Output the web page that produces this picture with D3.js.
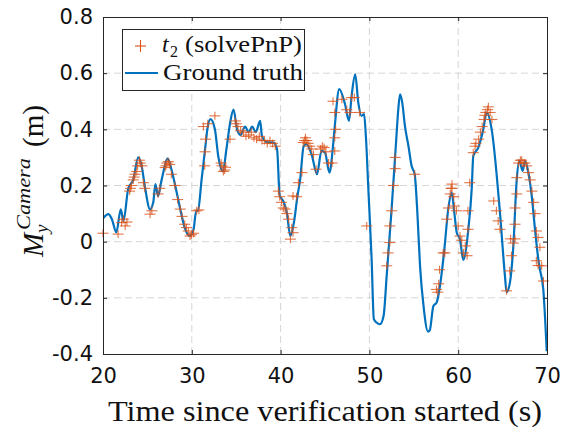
<!DOCTYPE html>
<html>
<head>
<meta charset="utf-8">
<script src="https://cdn.jsdelivr.net/npm/d3@7"></script>
<style>
  html, body { margin: 0; padding: 0; background: #ffffff; }
  svg { display: block; }
</style>
</head>
<body>
<svg id="chart" width="564" height="433"></svg>
<script>
// ---------- data ----------
const xTicks = [20, 30, 40, 50, 60, 70];
const yTicks = [-0.4, -0.2, 0, 0.2, 0.4, 0.6, 0.8];
const yTickLabels = ["-0.4", "-0.2", "0", "0.2", "0.4", "0.6", "0.8"];

// Ground truth (time s, metres)
const truthT = [20.0,20.6,21.0,21.5,22.0,22.3,22.85,23.4,23.97,24.35,24.7,25.3,25.66,25.9,26.2,26.6,27.3,27.7,28.3,28.7,29.2,29.8,30.2,30.5,30.7,31.1,31.5,31.75,32.1,32.6,33.0,33.5,33.9,34.3,34.7,35.1,35.5,36.0,36.4,36.8,37.2,37.7,37.9,38.5,39.2,39.6,39.9,40.3,40.7,41.1,41.5,41.9,42.2,42.6,42.9,43.5,44.1,44.6,45.0,45.5,45.9,46.1,46.6,47.25,47.7,48.0,48.4,48.75,49.1,49.4,49.6,49.9,50.25,50.5,50.8,51.2,51.6,51.95,52.5,53.0,53.25,53.45,53.7,54.0,54.4,54.75,55.1,55.4,55.7,56.1,56.6,56.8,57.2,57.58,57.95,58.4,58.88,59.27,59.56,59.83,60.2,60.57,61.14,61.52,61.7,62.26,62.83,63.2,63.77,64.7,65.26,65.45,65.83,66.2,66.59,66.88,67.26,67.52,67.9,68.28,68.65,69.02,69.2,69.58,69.97];
const truthV = [0.083,0.098,0.08,0.033,0.115,0.074,0.19,0.22,0.30,0.27,0.20,0.115,0.14,0.205,0.163,0.22,0.296,0.258,0.175,0.116,0.05,0.02,0.044,0.11,0.11,0.22,0.33,0.40,0.436,0.40,0.30,0.25,0.33,0.42,0.47,0.40,0.38,0.41,0.39,0.41,0.39,0.43,0.376,0.354,0.353,0.33,0.163,0.145,0.104,0.02,0.068,0.163,0.22,0.34,0.347,0.31,0.24,0.323,0.317,0.246,0.34,0.41,0.543,0.49,0.43,0.52,0.596,0.495,0.448,0.454,0.377,0.175,-0.062,-0.276,-0.288,-0.294,-0.264,-0.12,0.116,0.353,0.47,0.525,0.495,0.412,0.34,0.27,0.24,0.104,-0.086,-0.23,-0.32,-0.315,-0.23,-0.216,-0.157,-0.04,0.116,0.175,0.104,0.033,0.009,-0.065,0.044,0.187,0.305,0.335,0.40,0.46,0.40,0.104,-0.12,-0.18,-0.145,-0.02,0.22,0.288,0.252,0.288,0.246,0.163,0.044,-0.062,-0.098,-0.169,-0.39];

// t2 (solvePnP) estimates
const pnpT = [20.0,21.7,22.1,22.3,22.5,22.7,23.0,23.1,23.2,23.4,23.5,23.6,23.8,23.9,24.1,24.2,24.4,24.55,24.7,25.3,25.5,26.2,26.4,27.0,27.1,27.2,27.35,27.5,27.7,28.1,28.4,28.7,28.9,29.2,29.4,29.6,29.8,29.95,30.2,30.55,30.8,31.45,31.5,31.55,31.3,31.8,32.6,33.3,33.4,33.55,33.7,33.8,34.3,34.9,35.0,35.2,35.5,35.8,36.1,36.4,36.7,37.0,37.3,37.6,37.9,38.2,38.5,38.8,39.1,39.4,39.75,39.9,40.1,40.3,40.5,40.7,40.9,41.1,41.25,41.4,41.4,41.8,42.0,42.4,42.55,42.7,42.8,42.95,43.1,43.3,43.5,43.7,44.0,44.5,44.7,44.9,45.1,45.4,45.8,46.1,46.1,46.2,45.9,46.1,46.9,47.45,47.8,48.0,48.3,48.9,49.7,51.95,52.1,52.3,52.3,52.5,52.7,52.9,52.9,55.1,57.55,57.7,57.8,57.9,58.3,58.5,58.7,58.9,59.1,59.2,59.3,59.3,59.5,59.6,59.8,60.0,60.2,60.4,60.6,60.8,61.0,61.1,61.1,61.3,61.7,61.9,62.0,62.3,62.5,62.7,62.9,63.0,63.1,63.3,63.4,63.6,63.8,64.0,64.3,64.5,64.7,65.45,65.8,66.0,66.2,65.9,66.4,66.4,66.4,66.6,66.6,66.8,67.0,67.15,67.3,67.5,67.7,67.9,68.1,68.3,68.5,68.65,68.8,69.0,69.2,68.8,69.0,69.4,69.6];
const pnpV = [0.03,0.027,0.068,0.08,0.056,0.07,0.18,0.19,0.20,0.22,0.23,0.24,0.25,0.27,0.29,0.28,0.27,0.21,0.19,0.098,0.11,0.17,0.19,0.264,0.27,0.28,0.285,0.275,0.24,0.20,0.15,0.116,0.09,0.062,0.05,0.038,0.02,0.025,0.03,0.11,0.113,0.27,0.32,0.365,0.41,0.42,0.448,0.28,0.27,0.25,0.255,0.265,0.365,0.43,0.42,0.41,0.395,0.39,0.375,0.38,0.39,0.37,0.365,0.375,0.36,0.36,0.35,0.36,0.35,0.34,0.18,0.16,0.14,0.12,0.116,0.10,0.08,0.009,0.05,0.032,0.163,0.16,0.21,0.246,0.353,0.36,0.37,0.36,0.35,0.34,0.33,0.31,0.258,0.33,0.34,0.335,0.32,0.28,0.28,0.323,0.37,0.40,0.50,0.46,0.507,0.47,0.46,0.513,0.513,0.46,0.056,-0.086,-0.04,-0.003,0.056,0.11,0.20,0.26,0.30,0.24,-0.17,-0.18,-0.15,-0.10,-0.04,-0.04,0.08,0.12,0.17,0.19,0.205,0.19,0.16,0.127,0.11,0.056,0.02,0.005,-0.04,-0.015,-0.05,0.044,0.11,0.21,0.317,0.34,0.35,0.365,0.39,0.41,0.435,0.45,0.46,0.47,0.48,0.46,0.435,0.145,0.11,0.074,0.044,-0.175,-0.104,-0.05,-0.005,0.01,0.01,0.062,0.12,0.17,0.228,0.28,0.29,0.29,0.28,0.28,0.27,0.246,0.22,0.18,0.14,0.10,0.038,0.015,-0.02,-0.068,-0.085,-0.086,-0.14];

const legendLabels = ["(solvePnP)", "Ground truth"];
const xLabelText = "Time since verification started (s)";

// ---------- layout ----------
const svg = d3.select("#chart");
const L = 103, R = 547, T = 17, B = 354;
const x = d3.scaleLinear().domain([20, 70]).range([L, R]);
const y = d3.scaleLinear().domain([-0.4, 0.8]).range([B, T]);

const blue = "#0072BD", orange = "#D95319", axisCol = "#262626";

// grid
const grid = svg.append("g");
grid.selectAll(".gx").data(xTicks.slice(1, -1)).join("line")
  .attr("x1", d => x(d)).attr("x2", d => x(d)).attr("y1", T).attr("y2", B)
  .attr("stroke", "#d6d6d6").attr("stroke-width", 1).attr("stroke-dasharray", "7,4");
grid.selectAll(".gy").data(yTicks.slice(1, -1)).join("line")
  .attr("x1", L).attr("x2", R).attr("y1", d => y(d)).attr("y2", d => y(d))
  .attr("stroke", "#d6d6d6").attr("stroke-width", 1).attr("stroke-dasharray", "7,4");

// ground truth line
svg.append("clipPath").attr("id", "clip").append("rect")
  .attr("x", L).attr("y", T - 2).attr("width", R - L).attr("height", B - T + 4);
const line = d3.line().x(d => x(d[0])).y(d => y(d[1])).curve(d3.curveMonotoneX);
svg.append("path").datum(truthT.map((t, i) => [t, truthV[i]]))
  .attr("d", line).attr("fill", "none").attr("stroke", blue)
  .attr("stroke-width", 2.2).attr("stroke-linejoin", "round").attr("clip-path", "url(#clip)");

// pnp markers
const mk = svg.append("g").attr("stroke", orange).attr("stroke-width", 1.1).attr("stroke-opacity", 0.8);
const pts = pnpT.map((t, i) => [t, pnpV[i]]);
mk.selectAll(".h").data(pts).join("line")
  .attr("x1", d => x(d[0]) - 5.5).attr("x2", d => x(d[0]) + 5.5)
  .attr("y1", d => y(d[1])).attr("y2", d => y(d[1]));
mk.selectAll(".v").data(pts).join("line")
  .attr("x1", d => x(d[0])).attr("x2", d => x(d[0]))
  .attr("y1", d => y(d[1]) - 4).attr("y2", d => y(d[1]) + 4);

// axes box + ticks
const xAxisB = d3.axisBottom(x).tickValues(xTicks).tickSize(-4).tickPadding(14).tickFormat(d3.format("d"));
const xAxisT = d3.axisTop(x).tickValues(xTicks).tickSize(-4).tickFormat("");
const yAxisL = d3.axisLeft(y).tickValues(yTicks).tickSize(-4).tickPadding(10).tickFormat((d, i) => yTickLabels[i]);
const yAxisR = d3.axisRight(y).tickValues(yTicks).tickSize(-4).tickFormat("");

function styleAxis(g) {
  g.select(".domain").attr("stroke", axisCol).attr("stroke-width", 1);
  g.selectAll(".tick line").attr("stroke", axisCol);
  g.selectAll("text").attr("fill", "#111").attr("font-family", "DejaVu Sans").attr("font-size", 21);
}
svg.append("g").attr("transform", `translate(0,${B})`).call(xAxisB).call(styleAxis);
svg.append("g").attr("transform", `translate(0,${T})`).call(xAxisT).call(styleAxis);
svg.append("g").attr("transform", `translate(${L},0)`).call(yAxisL).call(styleAxis);
svg.append("g").attr("transform", `translate(${R},0)`).call(yAxisR).call(styleAxis);

// x label
svg.append("text").attr("x", 108).attr("y", 421)
  .attr("font-family", "Liberation Serif").attr("font-size", 29).attr("fill", "#111")
  .attr("textLength", 434).attr("lengthAdjust", "spacingAndGlyphs")
  .text(xLabelText);

// y label (rotated)
const yl = svg.append("g").attr("transform", "translate(43,257) rotate(-90)")
  .attr("font-family", "Liberation Serif").attr("fill", "#111");
yl.append("text").attr("x", 0).attr("y", 0).attr("font-size", 29).attr("font-style", "italic").text("M");
yl.append("text").attr("x", 27).attr("y", -13).attr("font-size", 19).attr("font-style", "italic")
  .attr("textLength", 72).attr("lengthAdjust", "spacingAndGlyphs").text("Camera");
yl.append("text").attr("x", 24).attr("y", 5).attr("font-size", 19).attr("font-style", "italic").text("y");
yl.append("text").attr("x", 110).attr("y", 0).attr("font-size", 29).text("(m)");

// legend
const lg = svg.append("g");
lg.append("rect").attr("x", 122.5).attr("y", 29.5).attr("width", 182).attr("height", 61)
  .attr("fill", "#fff").attr("stroke", axisCol).attr("stroke-width", 1);
lg.append("line").attr("x1", 135).attr("x2", 146).attr("y1", 46).attr("y2", 46).attr("stroke", orange).attr("stroke-width", 1.1);
lg.append("line").attr("x1", 140.5).attr("x2", 140.5).attr("y1", 40).attr("y2", 52).attr("stroke", orange).attr("stroke-width", 1.1);
lg.append("line").attr("x1", 125).attr("x2", 158).attr("y1", 73).attr("y2", 73).attr("stroke", blue).attr("stroke-width", 2.2);
const lt = lg.append("g").attr("font-family", "Liberation Serif").attr("font-size", 24).attr("fill", "#111");
lt.append("text").attr("x", 162).attr("y", 52).attr("font-style", "italic").text("t");
lt.append("text").attr("x", 170).attr("y", 57).attr("font-size", 16).text("2");
lt.append("text").attr("x", 185).attr("y", 52)
  .attr("textLength", 117).attr("lengthAdjust", "spacingAndGlyphs").text(legendLabels[0]);
lt.append("text").attr("x", 163).attr("y", 80)
  .attr("textLength", 140).attr("lengthAdjust", "spacingAndGlyphs").text(legendLabels[1]);
</script>
</body>
</html>
